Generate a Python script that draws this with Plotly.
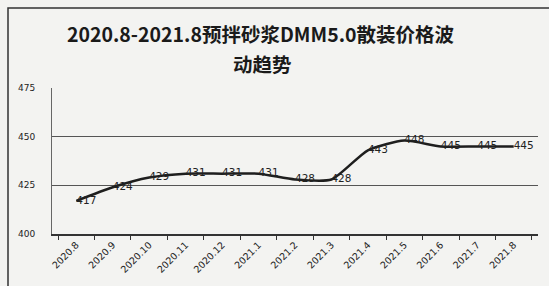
import plotly.graph_objects as go

categories = ["2020.8", "2020.9", "2020.10", "2020.11", "2020.12", "2021.1", "2021.2",
              "2021.3", "2021.4", "2021.5", "2021.6", "2021.7", "2021.8"]
prices = [417, 424, 429, 431, 431, 431, 428, 428, 443, 448, 445, 445, 445]
y_ticks = [400, 425, 450, 475]
title_lines = ["2020.8-2021.8预拌砂浆DMM5.0散装价格波", "动趋势"]

fig = go.Figure()
fig.add_trace(go.Scatter(
    x=categories, y=prices, mode="lines+text",
    line=dict(color="#1e1e1e", width=2.5, shape="spline", smoothing=0.6),
    text=[str(v) for v in prices], textposition="middle right",
    textfont=dict(family="DejaVu Sans", size=10.5, color="#222"),
    cliponaxis=False, showlegend=False, hoverinfo="skip",
))

# plot area: x 52..538 px, y 88..234 px
def px_x(x):
    return (x - 52) / 486

def px_y(y):
    return (234 - y) / 146

annotations = [
    dict(text="<b>" + title_lines[0] + "</b>", xref="paper", yref="paper",
         x=px_x(260), y=px_y(33), xanchor="center", yanchor="middle", showarrow=False,
         font=dict(family="Noto Sans CJK SC", size=19.5, color="#1a1a1a")),
    dict(text="<b>" + title_lines[1] + "</b>", xref="paper", yref="paper",
         x=px_x(262), y=px_y(63), xanchor="center", yanchor="middle", showarrow=False,
         font=dict(family="Noto Sans CJK SC", size=19.5, color="#1a1a1a")),
]

fig.update_layout(
    width=549, height=286,
    margin=dict(l=52, r=11, t=88, b=52),
    paper_bgcolor="#f3f3f1", plot_bgcolor="#f3f3f1",
    annotations=annotations,
    xaxis=dict(
        type="category", tickangle=-45, tickson="boundaries", ticks="outside",
        ticklen=4, tickcolor="#333", showgrid=False, showline=True,
        linecolor="#333", linewidth=1.5,
        tickfont=dict(family="DejaVu Sans", size=9.5, color="#222"),
    ),
    yaxis=dict(
        range=[400, 475], tickvals=y_ticks, showgrid=True, gridcolor="#555",
        gridwidth=1, showline=True, linecolor="#666", linewidth=1, ticks="",
        zeroline=False, ticklabelstandoff=14,
        tickfont=dict(family="DejaVu Sans", size=9, color="#222"),
    ),
    shapes=[dict(type="rect", xref="paper", yref="paper",
                 x0=px_x(8), x1=px_x(600), y0=px_y(320), y1=px_y(8),
                 line=dict(color="#333", width=1.5), layer="below")],
)

fig.write_html("out.html", config={"displayModeBar": False},
               post_script="document.body.style.margin='0';")
